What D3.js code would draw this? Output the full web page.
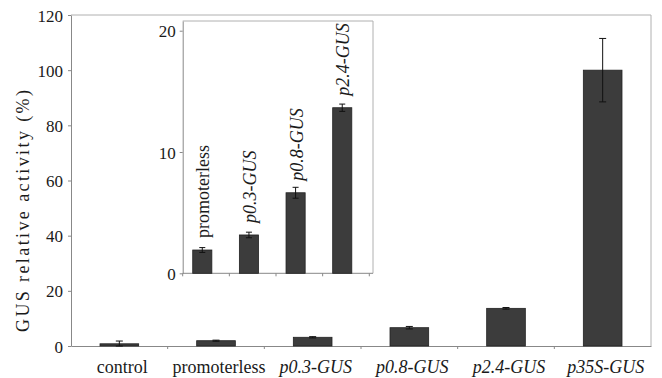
<!DOCTYPE html>
<html>
<head>
<meta charset="utf-8">
<script src="https://cdn.jsdelivr.net/npm/d3@7"></script>
<style>
  body { margin: 0; background: #fff; }
  svg text { font-family: "Times New Roman", "Liberation Serif", "DejaVu Serif", serif !important; fill: #1a1a1a; }
</style>
</head>
<body>
<div id="vis"></div>
<script>
// main chart data
const categories = ["control", "promoterless", "p0.3-GUS", "p0.8-GUS", "p2.4-GUS", "p35S-GUS"];
const values = [0.8, 1.92, 3.16, 6.64, 13.65, 100];
const errors = [1.0, 0.2, 0.23, 0.45, 0.3, 11.5];
const yTicks = [0, 20, 40, 60, 80, 100, 120];

// inset data
const insetCategories = ["promoterless", "p0.3-GUS", "p0.8-GUS", "p2.4-GUS"];
const insetValues = [1.92, 3.16, 6.64, 13.65];
const insetErrors = [0.2, 0.23, 0.45, 0.3];
const insetTicks = [0, 10, 20];

const W = 662, H = 378;
const serif = "'Times New Roman', 'Liberation Serif', 'DejaVu Serif', serif";
const italic = c => c.indexOf("GUS") >= 0 ? "italic" : "normal";

const svg = d3.select("#vis").append("svg")
    .attr("width", W)
    .attr("height", H)
    .attr("font-family", serif);

// ---- main chart ----
const mLeft = 71, mRight = 651, mTop = 15, mBottom = 346;

const x = d3.scaleBand()
    .domain(categories)
    .range([mLeft, mRight])
    .paddingInner(0.6)
    .paddingOuter(0.3);

const y = d3.scaleLinear()
    .domain([0, 120])
    .range([mBottom, mTop]);

// frame (top and right)
svg.append("path")
    .attr("d", `M${mLeft},${mTop}H${mRight}V${mBottom}`)
    .attr("fill", "none")
    .attr("stroke", "#b0b0b0");

// y axis
const yAxis = svg.append("g")
    .attr("transform", `translate(${mLeft},0)`)
    .call(d3.axisLeft(y).tickValues(yTicks).tickSize(3).tickPadding(5).tickSizeOuter(0))
    .attr("font-family", serif);
yAxis.selectAll("text").style("font-size", "17px").attr("dy", "0.36em");
yAxis.selectAll("line, path").attr("stroke", "#888");

// x axis (labels only, ticks drawn at band boundaries)
const xAxis = svg.append("g")
    .attr("transform", `translate(0,${mBottom})`)
    .call(d3.axisBottom(x).tickSize(0).tickPadding(14).tickSizeOuter(0))
    .attr("font-family", serif);
xAxis.select(".domain").attr("stroke", "#888");
xAxis.selectAll("text")
    .style("font-size", "18px")
    .style("font-style", d => italic(d))
    .attr("dx", 3);

svg.append("g").selectAll("line")
    .data(d3.range(1, categories.length))
    .join("line")
    .attr("x1", i => mLeft + i * x.step())
    .attr("x2", i => mLeft + i * x.step())
    .attr("y1", mBottom)
    .attr("y2", mBottom + 3)
    .attr("stroke", "#888");

// bars
svg.append("g").selectAll("rect")
    .data(categories)
    .join("rect")
    .attr("x", d => x(d))
    .attr("width", x.bandwidth())
    .attr("y", (d, i) => y(values[i]))
    .attr("height", (d, i) => y(0) - y(values[i]))
    .attr("fill", "#3c3c3c")
    .attr("stroke", "#222")
    .attr("stroke-width", 0.8);

// error bars
function errorBars(g, cats, vals, errs, ys, cx, cap) {
    const eb = g.append("g").attr("stroke", "#111").attr("stroke-width", 1);
    cats.forEach((c, i) => {
        const hi = ys(vals[i] + errs[i]);
        const lo = ys(Math.max(0, vals[i] - errs[i]));
        const xc = cx(c);
        eb.append("line").attr("x1", xc).attr("x2", xc).attr("y1", hi).attr("y2", lo);
        eb.append("line").attr("x1", xc - cap).attr("x2", xc + cap).attr("y1", hi).attr("y2", hi);
        eb.append("line").attr("x1", xc - cap).attr("x2", xc + cap).attr("y1", lo).attr("y2", lo);
    });
}
errorBars(svg, categories, values, errors, y, c => x(c) + x.bandwidth() / 2, 3.5);

// y axis title
svg.append("text")
    .attr("transform", `translate(29,211) rotate(-90)`)
    .attr("text-anchor", "middle")
    .attr("textLength", 242)
    .attr("lengthAdjust", "spacing")
    .style("font-size", "18px")
    .text("GUS relative activity (%)");

// ---- inset ----
const iLeft = 182.7, iRight = 369.3, iFrame = 373, iTop = 21, iBottom = 273.3;

const x2 = d3.scaleBand()
    .domain(insetCategories)
    .range([iLeft, iRight]);

const y2 = d3.scaleLinear()
    .domain([0, 20.8])
    .range([iBottom, iTop]);

const inset = svg.append("g");

inset.append("rect")
    .attr("x", iLeft)
    .attr("y", iTop)
    .attr("width", iFrame - iLeft)
    .attr("height", iBottom - iTop)
    .attr("fill", "#fff");

inset.append("path")
    .attr("d", `M${iLeft},${iTop}H${iFrame}V${iBottom}`)
    .attr("fill", "none")
    .attr("stroke", "#b0b0b0");

const y2Axis = inset.append("g")
    .attr("transform", `translate(${iLeft},0)`)
    .call(d3.axisLeft(y2).tickValues(insetTicks).tickSize(3).tickPadding(4).tickSizeOuter(0))
    .attr("font-family", serif);
y2Axis.selectAll("text").style("font-size", "17px").attr("dy", "0.36em");
y2Axis.selectAll("line, path").attr("stroke", "#888");

inset.append("line")
    .attr("x1", iLeft).attr("x2", iFrame)
    .attr("y1", iBottom).attr("y2", iBottom)
    .attr("stroke", "#888");

inset.append("g").selectAll("line")
    .data(d3.range(0, insetCategories.length + 1))
    .join("line")
    .attr("x1", i => iLeft + i * x2.step())
    .attr("x2", i => iLeft + i * x2.step())
    .attr("y1", iBottom)
    .attr("y2", iBottom + 3)
    .attr("stroke", "#888");

const barX = d => x2(d) + x2.bandwidth() * 0.215;
const barW = x2.bandwidth() * 0.41;

inset.append("g").selectAll("rect")
    .data(insetCategories)
    .join("rect")
    .attr("x", d => barX(d))
    .attr("width", barW)
    .attr("y", (d, i) => y2(insetValues[i]))
    .attr("height", (d, i) => y2(0) - y2(insetValues[i]))
    .attr("fill", "#3c3c3c")
    .attr("stroke", "#222")
    .attr("stroke-width", 0.8);

errorBars(inset, insetCategories, insetValues, insetErrors, y2, c => barX(c) + barW / 2, 3);

// rotated labels above inset bars
inset.append("g").selectAll("text")
    .data(insetCategories)
    .join("text")
    .attr("transform", (d, i) => `translate(${barX(d) + barW / 2 + 7},${y2(insetValues[i]) - 12}) rotate(-90)`)
    .attr("text-anchor", "start")
    .style("font-size", "18px")
    .style("font-style", d => italic(d))
    .text(d => d);
</script>
</body>
</html>
